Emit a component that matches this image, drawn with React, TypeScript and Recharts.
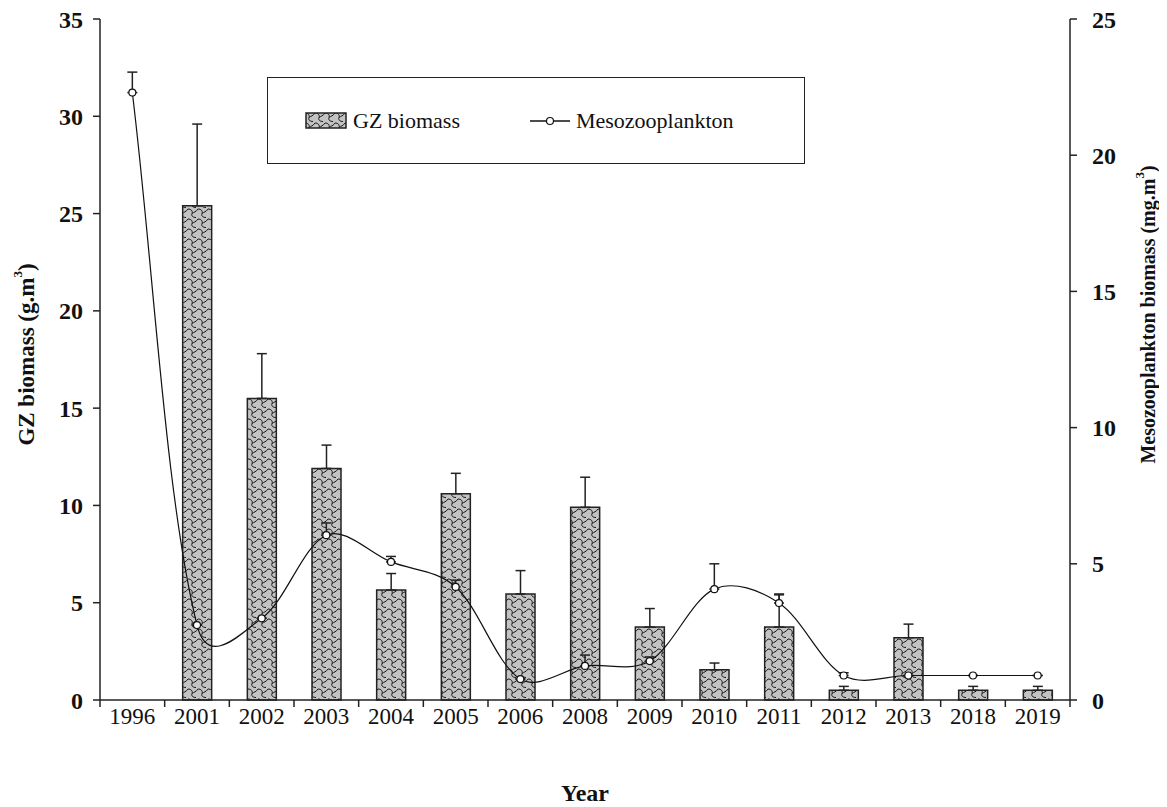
import React from "react";
import {
  ComposedChart,
  Bar,
  Line,
  XAxis,
  YAxis,
  ErrorBar,
  Legend,
  Label,
} from "recharts";

// values
const years = ["1996", "2001", "2002", "2003", "2004", "2005", "2006", "2008", "2009", "2010", "2011", "2012", "2013", "2018", "2019"];
const gzBiomass = [null, 25.4, 15.5, 11.9, 5.65, 10.6, 5.45, 9.9, 3.75, 1.55, 3.75, 0.5, 3.2, 0.5, 0.5];
const gzError = [0, 4.2, 2.3, 1.2, 0.85, 1.05, 1.2, 1.55, 0.95, 0.35, 1.7, 0.2, 0.7, 0.2, 0.2];
const mesoBiomass = [22.3, 2.75, 3.0, 6.05, 5.07, 4.15, 0.77, 1.25, 1.43, 4.07, 3.56, 0.9, 0.9, 0.9, 0.9];
const mesoError = [0.75, 0, 0, 0.45, 0.2, 0.25, 0, 0.4, 0.15, 0.93, 0.3, 0.1, 0, 0, 0];
const leftTicks = [0, 5, 10, 15, 20, 25, 30, 35];
const rightTicks = [0, 5, 10, 15, 20, 25];

const data = years.map((year, i) => ({
  year,
  gz: gzBiomass[i],
  gzErr: [0, gzError[i]],
  meso: mesoBiomass[i],
  mesoErr: [0, mesoError[i]],
}));

const FONT = "'Liberation Serif', 'Times New Roman', serif";

const dist = (a: number[], b: number[]) => Math.hypot(b[0] - a[0], b[1] - a[1]);

// smoothed line, tangents weighted by segment length so a big drop
// doesn't overshoot much (close to the spreadsheet "smoothed line")
const smoothCurve = (context: any) => {
  let pts: number[][] = [];
  return {
    areaStart() {},
    areaEnd() {},
    lineStart() {
      pts = [];
    },
    point(x: number, y: number) {
      pts.push([+x, +y]);
    },
    lineEnd() {
      if (!pts.length) return;
      context.moveTo(pts[0][0], pts[0][1]);
      for (let i = 0; i < pts.length - 1; i++) {
        const p0 = pts[i - 1] || pts[i];
        const p1 = pts[i];
        const p2 = pts[i + 1];
        const p3 = pts[i + 2] || p2;
        const d01 = Math.sqrt(dist(p0, p1));
        const d12 = Math.sqrt(dist(p1, p2));
        const d23 = Math.sqrt(dist(p2, p3));
        const f1 = d01 + d12 > 0 ? d12 / (d01 + d12) / 1.5 : 0;
        const f2 = d12 + d23 > 0 ? d12 / (d12 + d23) / 1.5 : 0;
        const k1 = i === 0 ? 1 / 3 : f1;
        const k2 = i === pts.length - 2 ? 1 / 3 : f2;
        context.bezierCurveTo(
          p1[0] + (p2[0] - p0[0]) * k1 * (i === 0 ? 1 : 0.5),
          p1[1] + (p2[1] - p0[1]) * k1 * (i === 0 ? 1 : 0.5),
          p2[0] - (p3[0] - p1[0]) * k2 * (i === pts.length - 2 ? 1 : 0.5),
          p2[1] - (p3[1] - p1[1]) * k2 * (i === pts.length - 2 ? 1 : 0.5),
          p2[0],
          p2[1]
        );
      }
    },
  };
};

const YearTick = (props: any) => {
  const { x, y, payload, index, width } = props;
  const half = payload?.offset || width / years.length / 2;
  return (
    <g>
      <line x1={x - half} y1={y} x2={x - half} y2={y + 7} stroke="#222" strokeWidth={1.5} />
      {index === years.length - 1 && (
        <line x1={x + half} y1={y} x2={x + half} y2={y + 7} stroke="#222" strokeWidth={1.5} />
      )}
      <text x={x} y={y + 24} textAnchor="middle" fontFamily={FONT} fontSize={23} fill="#111">
        {payload.value}
      </text>
    </g>
  );
};

const HatchSwatch = () => (
  <svg width={42} height={17} style={{ display: "block" }}>
    <rect x={1} y={1} width={40} height={15} fill="url(#gzHatch)" stroke="#222" strokeWidth={1.5} />
  </svg>
);

const LegendBox = () => (
  <div
    style={{
      width: 538,
      height: 87,
      boxSizing: "border-box",
      border: "1.5px solid #222",
      background: "#fff",
      display: "flex",
      alignItems: "center",
      fontFamily: FONT,
      fontSize: 22,
      color: "#111",
    }}
  >
    <div style={{ marginLeft: 37, display: "flex", alignItems: "center" }}>
      <HatchSwatch />
      <span style={{ marginLeft: 6 }}>GZ biomass</span>
    </div>
    <div style={{ marginLeft: 70, display: "flex", alignItems: "center" }}>
      <svg width={42} height={12} style={{ display: "block" }}>
        <line x1={0} y1={6} x2={40} y2={6} stroke="#111" strokeWidth={1.3} />
        <circle cx={20} cy={6} r={3.5} fill="#fff" stroke="#111" strokeWidth={1.2} />
      </svg>
      <span style={{ marginLeft: 4 }}>Mesozooplankton</span>
    </div>
  </div>
);

const AxisTitle = ({ viewBox, text, dx, dy, size }: any) => {
  const cx = viewBox.x + dx;
  const cy = viewBox.y + viewBox.height / 2 + dy;
  return (
    <text
      x={cx}
      y={cy}
      transform={`rotate(-90 ${cx} ${cy})`}
      textAnchor="middle"
      dominantBaseline="central"
      fontFamily={FONT}
      fontWeight="bold"
      fontSize={size}
      fill="#111"
    >
      {text}
      <tspan dy={-9} fontSize={13}>3</tspan>
      <tspan dy={9}>)</tspan>
    </text>
  );
};

export default function App() {
  return (
    <div style={{ width: 1159, height: 799, background: "#fff" }}>
      <ComposedChart
        width={1159}
        height={799}
        data={data}
        margin={{ top: 11, right: 0, bottom: 0, left: 0 }}
        barCategoryGap={0}
      >
        <defs>
          <pattern id="gzHatch" width={10} height={10} patternUnits="userSpaceOnUse">
            <rect width={10} height={10} fill="#c3c3c3" />
            <path
              d="M0,1 C3,1 5,3 4,5.5 C3,8 5,9.5 8,9.5 M4,5.5 C6,4 8,4 10,1"
              fill="none"
              stroke="#151515"
              strokeWidth={1}
            />
          </pattern>
        </defs>
        <XAxis
          dataKey="year"
          height={107}
          tickLine={false}
          tickSize={0}
          tickMargin={0}
          axisLine={{ stroke: "#222", strokeWidth: 1.5 }}
          tick={<YearTick />}
          interval={0}
        >
          <Label
            value="Year"
            position="insideBottom"
            offset={6}
            style={{ fontFamily: FONT, fontWeight: "bold", fontSize: 24, fill: "#111" }}
          />
        </XAxis>
        <YAxis
          yAxisId="left"
          width={92}
          domain={[0, 35]}
          ticks={leftTicks}
          interval={0}
          tickSize={7}
          tickMargin={10}
          axisLine={{ stroke: "#222", strokeWidth: 1.5 }}
          tickLine={{ stroke: "#222", strokeWidth: 1.5 }}
          tick={{ fontFamily: FONT, fontWeight: "bold", fontSize: 24, fill: "#111" }}
        >
          <Label content={<AxisTitle text="GZ biomass (g.m" dx={18} dy={-5} size={23} />} />
        </YAxis>
        <YAxis
          yAxisId="right"
          orientation="right"
          width={97}
          domain={[0, 25]}
          ticks={rightTicks}
          interval={0}
          tickSize={7}
          tickMargin={15}
          axisLine={{ stroke: "#222", strokeWidth: 1.5 }}
          tickLine={{ stroke: "#222", strokeWidth: 1.5 }}
          tick={{ fontFamily: FONT, fontWeight: "bold", fontSize: 24, fill: "#111" }}
        >
          <Label
            content={
              <AxisTitle text="Mesozooplankton biomass (mg.m" dx={78} dy={-45} size={20} />
            }
          />
        </YAxis>
        <Legend
          verticalAlign="middle"
          align="center"
          layout="horizontal"
          content={<LegendBox />}
          wrapperStyle={{ left: 259, top: 69, width: 538, height: 87 }}
        />
        <Bar
          yAxisId="left"
          dataKey="gz"
          name="GZ biomass"
          barSize={29}
          fill="url(#gzHatch)"
          stroke="#222"
          strokeWidth={1.5}
          isAnimationActive={false}
        >
          <ErrorBar dataKey="gzErr" direction="y" width={5} stroke="#222" strokeWidth={1.5} />
        </Bar>
        <Line
          yAxisId="right"
          dataKey="meso"
          name="Mesozooplankton"
          type={smoothCurve as any}
          stroke="#111"
          strokeWidth={1.2}
          dot={{ r: 3.5, fill: "#fff", stroke: "#111", strokeWidth: 1.2 }}
          activeDot={false}
          isAnimationActive={false}
        >
          <ErrorBar dataKey="mesoErr" direction="y" width={5} stroke="#222" strokeWidth={1.5} />
        </Line>
      </ComposedChart>
    </div>
  );
}
